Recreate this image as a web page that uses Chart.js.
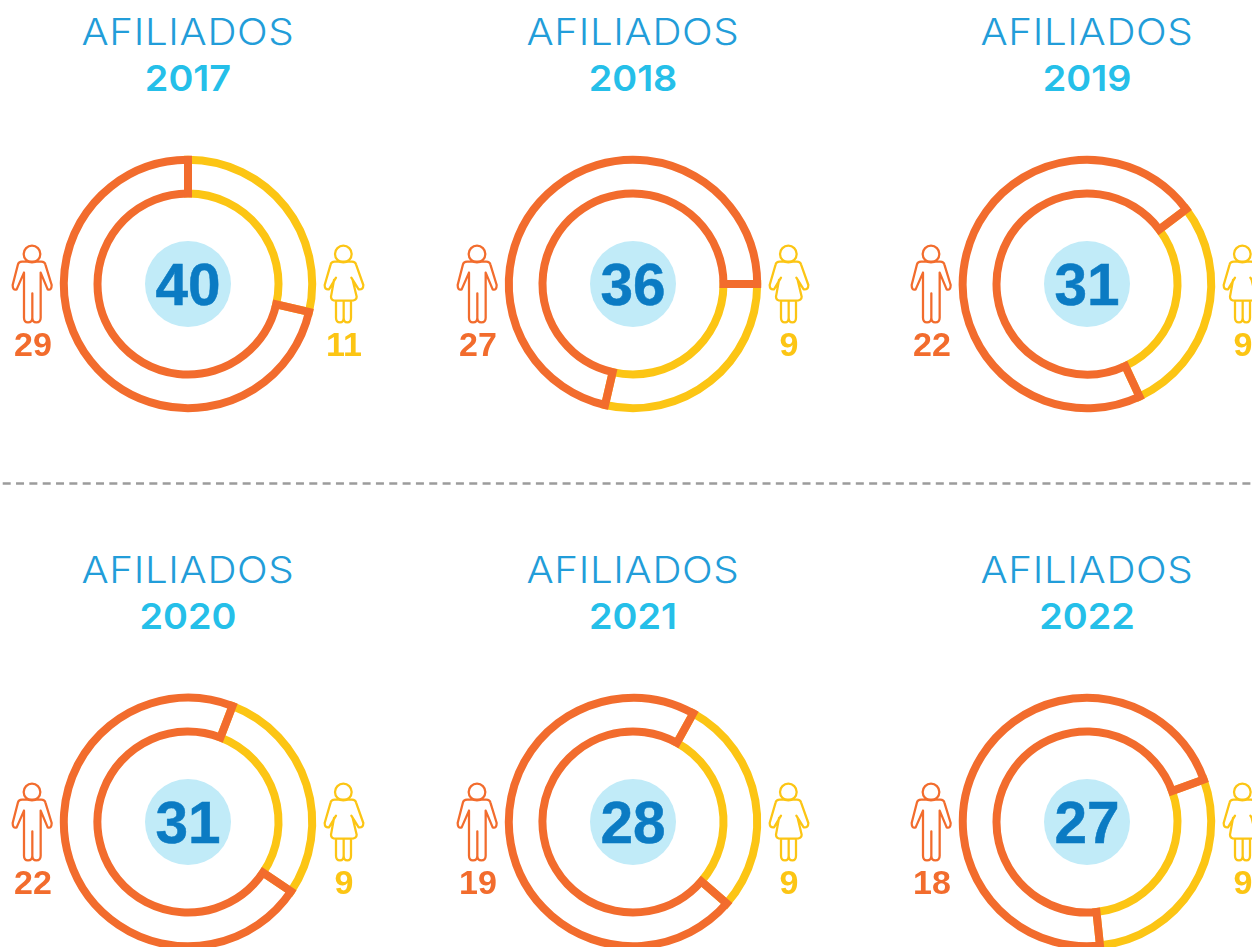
<!DOCTYPE html>
<html>
<head>
<meta charset="utf-8">
<script src="https://cdn.jsdelivr.net/npm/chart.js@4"></script>
<style>
html,body{margin:0;padding:0;background:#fff;width:1252px;height:947px;overflow:hidden}
#stage{position:relative;width:1252px;height:947px;overflow:hidden}
.abs{position:absolute}
.t{position:absolute;text-align:center;white-space:nowrap;width:300px}
.title{font:300 36.5px Inter,sans-serif;color:#229dd9;line-height:40px;letter-spacing:0.6px;transform:scaleX(1.105)}
.year{font:600 36px Inter,sans-serif;color:#25bfe9;line-height:40px;transform:scaleX(1.05)}
.num{font:bold 58.5px "Liberation Sans",sans-serif;color:#0b7bc3;line-height:60px;-webkit-text-stroke:0.5px #0b7bc3}
.count{font:bold 34px "Liberation Sans",sans-serif;line-height:36px;width:80px}
.dot{position:absolute;width:86px;height:86px;border-radius:50%;background:#c1ebf8}
canvas{position:absolute}
</style>
</head>
<body>
<div id="stage">
<svg class="abs" style="left:0;top:0" width="1252" height="947"><line x1="2.7" y1="483.5" x2="1252" y2="483.5" stroke="#9c9c9c" stroke-width="2.4" stroke-dasharray="8 5.33"/></svg>
</div>
<script>
const years   = ['2017','2018','2019','2020','2021','2022'];
const totals  = [40,36,31,31,28,27];
const men     = [29,27,22,22,19,18];
const women   = [11,9,9,9,9,9];
// Share of each ring in degrees (the drawn arcs are not proportional to the counts).
const womenArc = [103,103,102,103,102,104];
const menArc   = [257,257,258,257,258,256];
const seriesLabels = ['Mujeres','Hombres'];

const ORANGE='#f26c2d', YELLOW='#fcc514';
const centersX=[188,633,1087], centersY=[284,822];
const starts=[0,90,53,21,29,70];
const stage=document.getElementById('stage');

const manPath='M72 128V263Q72 277 84 277Q97 277 97 263V190V263Q97 277 109 277Q122 277 122 263V128M122 128L143 178Q155 182 155 165L136 103Q134 95 124 95H66Q56 95 54 103L38 165Q38 182 50 178L72 128';
const womanPath='M228 143L207 178Q194 180 194 165L212 103Q214 95 224 95H276Q286 95 288 103L310 165Q310 180 296 178L274 143M222 150L213 200Q213 212 228 212H272Q290 212 290 200L278 150M228 212V263Q228 277 240 277Q251 277 251 263V212V263Q251 277 262 277Q273 277 273 263V212';

function icon(path,x,cy,color,hx){
  const s=document.createElementNS('http://www.w3.org/2000/svg','svg');
  s.setAttribute('class','abs');
  s.setAttribute('width',130);s.setAttribute('height',140);
  s.setAttribute('viewBox','0 0 390 420');
  s.style.left=x+'px';s.style.top=(cy-54)+'px';
  s.innerHTML='<circle cx="'+hx+'" cy="72" r="25" fill="none" stroke="'+color+'" stroke-width="6.8"/><path d="'+path+'" fill="none" stroke="'+color+'" stroke-width="6.8" stroke-linejoin="round" stroke-linecap="round"/>';
  stage.appendChild(s);
}
function text(cls,str,cx,top,color){
  const d=document.createElement('div');
  d.className='t '+cls;d.textContent=str;
  stage.appendChild(d);
  const w=cls.includes('count')?80:300;
  d.style.left=(cx-w/2)+'px';d.style.top=top+'px';
  if(color)d.style.color=color;
}

years.forEach((y,i)=>{
  const cx=centersX[i%3], cy=centersY[Math.floor(i/3)];
  text('title','AFILIADOS',cx,cy-272);
  text('year',y,cx,cy-226);
  const dot=document.createElement('div');dot.className='dot';
  dot.style.left=(cx-43)+'px';dot.style.top=(cy-43)+'px';stage.appendChild(dot);
  const c=document.createElement('canvas');
  c.width=264;c.height=264;c.style.left=(cx-132)+'px';c.style.top=(cy-132)+'px';
  c.style.width='264px';c.style.height='264px';
  stage.appendChild(c);
  new Chart(c,{type:'doughnut',
    data:{labels:seriesLabels,datasets:[{
      data:[womenArc[i],menArc[i]],
      backgroundColor:'rgba(0,0,0,0)',
      borderColor:[YELLOW,ORANGE],
      hoverBackgroundColor:'rgba(0,0,0,0)',
      hoverBorderColor:[YELLOW,ORANGE],
      borderWidth:8,hoverBorderWidth:8,hoverOffset:0,
      borderJoinStyle:'miter'
    }]},
    options:{responsive:false,animation:false,rotation:starts[i],cutout:90.5,
      layout:{padding:3.8},events:[],
      plugins:{legend:{display:false},tooltip:{enabled:false},title:{display:false}}}
  });
  text('num',String(totals[i]),cx,cy-29);
  icon(manPath,cx-188,cy,ORANGE,96);
  icon(womanPath,cx+156-84,cy,YELLOW,250);
  text('count',String(men[i]),cx-155,cy+42,ORANGE);
  text('count',String(women[i]),cx+156,cy+42,YELLOW);
});
</script>
</body>
</html>
